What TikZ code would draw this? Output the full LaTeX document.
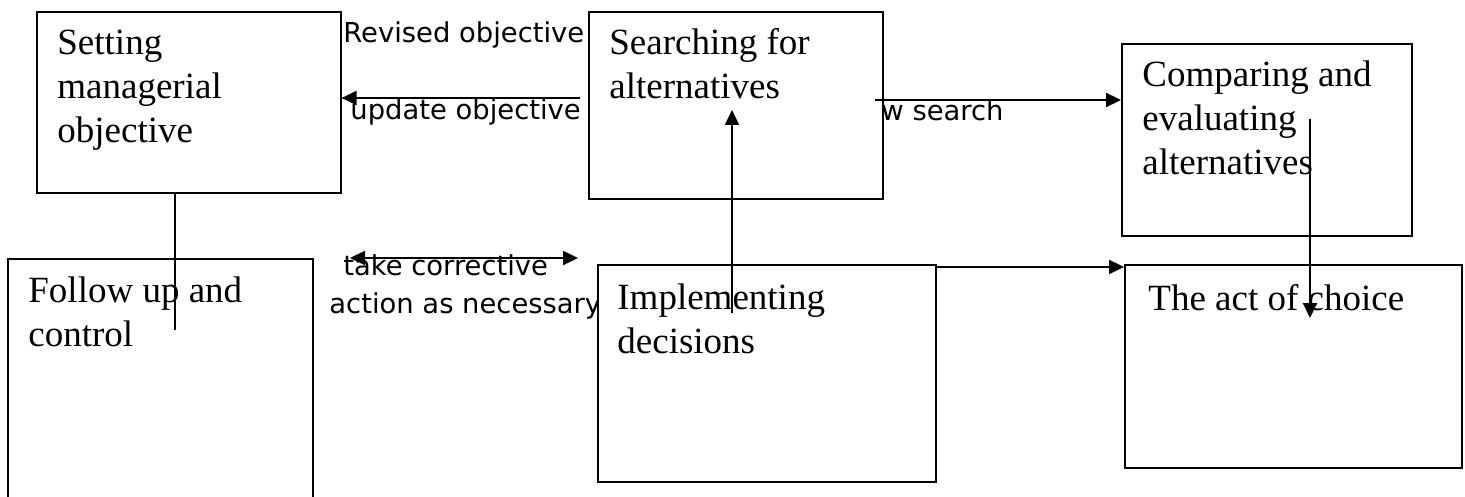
\documentclass[tikz,border=0pt]{standalone}
\usepackage{fontspec}
\setmainfont{Liberation Serif}
\newfontfamily\lblfont{DejaVu Sans}
\usetikzlibrary{arrows.meta}
\begin{document}
\begin{tikzpicture}[x=0.5pt,y=-0.5pt,
  box/.style={draw, line width=0.8pt, fill=white, inner sep=0pt, anchor=north west},
  txt/.style={font=\fontsize{18.5}{22}\selectfont, align=left, anchor=base west, inner sep=0pt},
  lbl/.style={font=\lblfont\fontsize{13.7}{16}\selectfont, anchor=base west, inner sep=0pt},
  ln/.style={line width=1.1pt},
  arr/.style={line width=1.1pt, -{Triangle[length=7.5pt,width=7pt]}},
  arrb/.style={line width=1.1pt, {Triangle[length=7.5pt,width=7pt]}-{Triangle[length=7.5pt,width=7pt]}}]
\useasboundingbox (0,0) rectangle (1465,497);
\clip (0,0) rectangle (1465,497);
% labels
\node[lbl] (l1) at (343,43) {Revised objective};
\node[lbl] (l2) at (350,120) {update objective};
\node[lbl] (l3) at (881,121) {w search};
\node[lbl] (l4) at (343,275) {take corrective};
\node[lbl] (l5) at (329,313) {action as necessary};
% boxes
\node[box, minimum width=152pt, minimum height=90.5pt] (A) at (36,11) {};
\node[box, minimum width=147pt, minimum height=93.5pt] (B) at (588,11) {};
\node[box, minimum width=145pt, minimum height=96pt] (C) at (1121,43) {};
\node[box, minimum width=152.5pt, minimum height=126pt] (D) at (7,258) {};
\node[box, minimum width=169pt, minimum height=108.5pt] (E) at (597,264) {};
\node[box, minimum width=168.5pt, minimum height=101.5pt] (F) at (1124,264) {};
% box texts (anchor at baseline of last line)
\node[txt] (At) at (57,143) {Setting\\managerial\\objective};
\node[txt] (Bt) at (609,99) {Searching for\\alternatives};
\node[txt] (Ct) at (1142,175) {Comparing and\\evaluating\\alternatives};
\node[txt] (Dt) at (28,346) {Follow up and\\control};
\node[txt] (Et) at (617,353) {Implementing\\decisions};
\node[txt] (Ft) at (1148,310) {The act of choice};
% connectors
\coordinate (a1) at (175,330);
\draw[ln] (a1 |- A.south) -- (a1);
\coordinate (u1) at (580,98);
\draw[arr] (u1) -- (u1 -| A.east);
\coordinate (n1) at (875,100);
\draw[arr] (n1) -- (n1 -| C.west);
\coordinate (i1) at (732,313);
\coordinate (i2) at (732,110);
\draw[arr] (i1) -- (i2);
\coordinate (c1) at (1310,119);
\coordinate (c2) at (1310,318);
\draw[arr] (c1) -- (c2);
\draw[arr] ([yshift=-1.5pt]E.north east) -- ([yshift=-1.5pt]F.north west);
\coordinate (t1) at (350,258);
\coordinate (t2) at (578,258);
\draw[arrb] (t1) -- (t2);
\end{tikzpicture}
\end{document}
